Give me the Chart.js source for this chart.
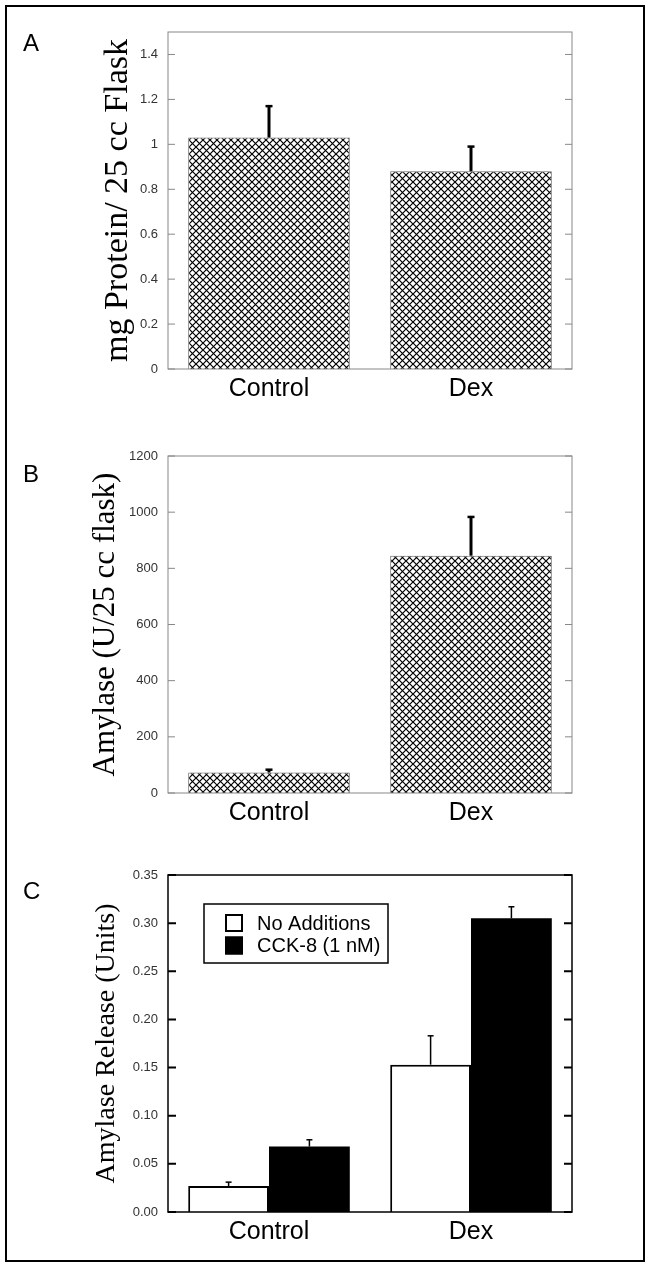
<!DOCTYPE html>
<html>
<head>
<meta charset="utf-8">
<script src="https://cdn.jsdelivr.net/npm/chart.js@4.4.1/dist/chart.umd.min.js"></script>
<style>
  html, body { margin: 0; padding: 0; background: #fff; }
  #page { position: relative; width: 649px; height: 1264px; overflow: hidden; }
  #frame { position: absolute; left: 5px; top: 5px; width: 640px; height: 1257px; border: 2px solid #000; box-sizing: border-box; }
  canvas { position: absolute; left: 0; }
  .letter { position: absolute; left: 23px; font-family: "Liberation Sans", Arial, sans-serif; font-size: 24px; line-height: 24px; color: #000; }
</style>
</head>
<body>
<div id="page">
  <div id="frame"></div>
  <canvas id="chartA" width="649" height="421" style="top:0px"></canvas>
  <canvas id="chartB" width="649" height="421" style="top:421px"></canvas>
  <canvas id="chartC" width="649" height="422" style="top:842px"></canvas>
  <div class="letter" style="top:31px">A</div>
  <div class="letter" style="top:462px">B</div>
  <div class="letter" style="top:879px">C</div>
</div>
<script>
// data
var categories = ['Control', 'Dex'];

var proteinMean = [1.03, 0.88];
var proteinErr = [0.14, 0.11];

var amylaseMean = [73, 845];
var amylaseErr = [10, 138];

var releaseNoAdd = [0.027, 0.153];
var releaseNoAddErr = [0.004, 0.030];
var releaseCck = [0.068, 0.305];
var releaseCckErr = [0.007, 0.012];

var ticksA = [0, 0.2, 0.4, 0.6, 0.8, 1, 1.2, 1.4];
var ticksB = [0, 200, 400, 600, 800, 1000, 1200];
var ticksC = [0, 0.05, 0.10, 0.15, 0.20, 0.25, 0.30, 0.35];

Chart.defaults.font.family = '"Liberation Sans", Arial, sans-serif';
Chart.defaults.animation = false;

function hatch(canvasId) {
  var tile = document.createElement('canvas');
  tile.width = tile.height = 7;
  var g = tile.getContext('2d');
  g.fillStyle = '#fff';
  g.fillRect(0, 0, 7, 7);
  g.strokeStyle = '#000';
  g.lineWidth = 1.2;
  g.beginPath();
  g.moveTo(-1, -1); g.lineTo(8, 8);
  g.moveTo(8, -1); g.lineTo(-1, 8);
  g.stroke();
  return document.getElementById(canvasId).getContext('2d').createPattern(tile, 'repeat');
}

// upward error bars on each bar
var errorBars = {
  id: 'errorBars',
  afterDatasetsDraw: function (chart, args, opts) {
    var ctx = chart.ctx;
    var y = chart.scales.y;
    chart.data.datasets.forEach(function (ds, di) {
      if (!ds.errors) return;
      chart.getDatasetMeta(di).data.forEach(function (bar, i) {
        var top = y.getPixelForValue(ds.data[i] + ds.errors[i]);
        ctx.save();
        ctx.strokeStyle = '#000';
        ctx.lineWidth = opts.stem;
        ctx.beginPath();
        ctx.moveTo(bar.x, bar.y);
        ctx.lineTo(bar.x, top);
        ctx.stroke();
        ctx.lineWidth = opts.cap;
        ctx.beginPath();
        ctx.moveTo(bar.x - opts.capW / 2, top);
        ctx.lineTo(bar.x + opts.capW / 2, top);
        ctx.stroke();
        ctx.restore();
      });
    });
  }
};

// closed box round the plot with inward ticks left and right
var boxTicks = {
  id: 'boxTicks',
  afterDraw: function (chart, args, opts) {
    var ctx = chart.ctx, a = chart.chartArea, y = chart.scales.y;
    ctx.save();
    ctx.strokeStyle = opts.color;
    ctx.lineWidth = opts.width;
    ctx.strokeRect(a.left, a.top, a.right - a.left, a.bottom - a.top);
    ctx.lineWidth = opts.tickWidth;
    y.ticks.forEach(function (t) {
      var py = y.getPixelForValue(t.value);
      ctx.beginPath();
      ctx.moveTo(a.left, py); ctx.lineTo(a.left + opts.len, py);
      ctx.moveTo(a.right, py); ctx.lineTo(a.right - opts.len, py);
      ctx.stroke();
    });
    ctx.restore();
  }
};

// legend in a box inside the plot (panel C)
var boxLegend = {
  id: 'boxLegend',
  afterDraw: function (chart, args, opts) {
    if (!opts.show) return;
    var ctx = chart.ctx, a = chart.chartArea;
    var x0 = a.left + opts.dx, y0 = a.top + opts.dy;
    ctx.save();
    ctx.strokeStyle = '#000';
    ctx.lineWidth = 1.5;
    ctx.fillStyle = '#fff';
    ctx.fillRect(x0, y0, opts.w, opts.h);
    ctx.strokeRect(x0, y0, opts.w, opts.h);
    ctx.font = '20px "Liberation Sans", Arial, sans-serif';
    ctx.textBaseline = 'middle';
    chart.data.datasets.forEach(function (ds, i) {
      var ry = y0 + opts.row0 + i * opts.rowH;
      ctx.fillStyle = ds.backgroundColor;
      ctx.fillRect(x0 + opts.sx, ry - 9, 18, 18);
      ctx.lineWidth = 2;
      ctx.strokeRect(x0 + opts.sx + 1, ry - 8, 16, 16);
      ctx.fillStyle = '#000';
      ctx.fillText(ds.label, x0 + opts.tx, ry + 1);
    });
    ctx.restore();
  }
};

function makePanel(id, p) {
  return new Chart(document.getElementById(id), {
    type: 'bar',
    data: { labels: categories, datasets: p.datasets },
    plugins: [errorBars, boxTicks, boxLegend],
    options: {
      responsive: false,
      layout: { padding: { left: 0, right: 77, top: p.top, bottom: 0 } },
      datasets: { bar: { barPercentage: 1, categoryPercentage: 0.8 } },
      plugins: {
        legend: { display: false },
        tooltip: { enabled: false },
        errorBars: p.err,
        boxTicks: p.box,
        boxLegend: p.legend || { show: false }
      },
      scales: {
        x: {
          type: 'category',
          offset: true,
          grid: { display: false, drawTicks: false },
          border: { display: false },
          ticks: { color: '#000', font: { size: 25 }, padding: 5 },
          afterFit: function (s) { s.height = p.height - p.bottom; }
        },
        y: {
          min: 0,
          max: p.max,
          grid: { display: false, drawTicks: false },
          border: { display: false },
          afterBuildTicks: function (s) { s.ticks = p.ticks.map(function (v) { return { value: v }; }); },
          ticks: { color: '#333', font: { size: 13 }, padding: 10, callback: p.fmt },
          title: {
            display: true,
            text: p.title,
            color: '#000',
            font: { family: '"Liberation Serif", "Times New Roman", serif', size: p.titleSize, lineHeight: 1.2 },
            padding: { top: p.titleX - p.titleSize * 0.6, bottom: 0 }
          },
          afterFit: function (s) { s.width = 168; }
        }
      }
    }
  });
}

var grayBox = { color: '#888', width: 1, tickWidth: 1, len: 7 };
var blackBox = { color: '#000', width: 1.5, tickWidth: 2, len: 8 };

makePanel('chartA', {
  datasets: [{ label: 'Protein', data: proteinMean, errors: proteinErr,
    backgroundColor: hatch('chartA'), borderColor: '#666', borderWidth: 1 }],
  ticks: ticksA, max: 1.5, fmt: function (v) { return String(v); },
  title: 'mg Protein/ 25 cc Flask', titleSize: 34, titleX: 118,
  top: 32, bottom: 369, height: 421,
  err: { stem: 3, cap: 2.5, capW: 7 }, box: grayBox
});

makePanel('chartB', {
  datasets: [{ label: 'Amylase', data: amylaseMean, errors: amylaseErr,
    backgroundColor: hatch('chartB'), borderColor: '#666', borderWidth: 1 }],
  ticks: ticksB, max: 1200, fmt: function (v) { return String(v); },
  title: 'Amylase (U/25 cc flask)', titleSize: 31, titleX: 106,
  top: 35, bottom: 372, height: 421,
  err: { stem: 3, cap: 2.5, capW: 7 }, box: grayBox
});

makePanel('chartC', {
  datasets: [
    { label: 'No Additions', data: releaseNoAdd, errors: releaseNoAddErr,
      backgroundColor: '#fff', borderColor: '#000', borderWidth: 2 },
    { label: 'CCK-8 (1 nM)', data: releaseCck, errors: releaseCckErr,
      backgroundColor: '#000', borderColor: '#000', borderWidth: 0 }
  ],
  ticks: ticksC, max: 0.35, fmt: function (v) { return v.toFixed(2); },
  title: 'Amylase Release (Units)', titleSize: 28, titleX: 107,
  top: 33, bottom: 370, height: 422,
  err: { stem: 1.5, cap: 1.5, capW: 6 }, box: blackBox,
  legend: { show: true, dx: 36, dy: 29, w: 184, h: 59, sx: 21, tx: 53, row0: 19, rowH: 22.5 }
});
</script>
</body>
</html>
